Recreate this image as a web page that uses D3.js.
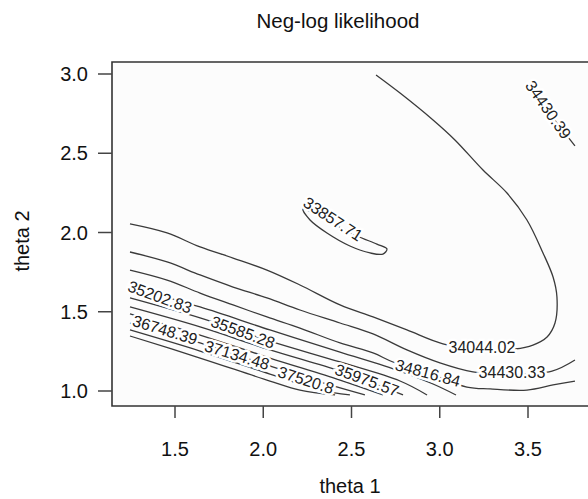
<!DOCTYPE html>
<html>
<head>
<meta charset="utf-8">
<script src="https://cdn.jsdelivr.net/npm/d3@7"></script>
<style>
  html, body { margin: 0; padding: 0; background: #fff; }
  svg { display: block; font-family: "Liberation Sans", Arial, sans-serif; }
</style>
</head>
<body>
<div id="chart"></div>
<script>
// axis ticks
const xTicks = [1.5, 2.0, 2.5, 3.0, 3.5];
const yTicks = [1.0, 1.5, 2.0, 2.5, 3.0];

// contour lines as [theta1, theta2]
const c33857 = [[2.225,2.148],[2.378,2.066],[2.531,1.978],[2.644,1.927],[2.701,1.896],[2.678,1.864],[2.605,1.871],[2.491,1.915],[2.361,1.997],[2.265,2.079]];
const c34044 = [[1.245,2.054],[1.455,1.997],[1.642,1.909],[1.829,1.839],[2.021,1.763],[2.208,1.669],[2.435,1.543],[2.622,1.467],[2.814,1.385],[3.018,1.297],[3.228,1.259],[3.426,1.265],[3.528,1.290],[3.608,1.341],[3.653,1.429],[3.664,1.593],[3.642,1.719],[3.585,1.871],[3.494,2.079],[3.381,2.249],[3.245,2.394],[3.086,2.584],[2.962,2.710],[2.775,2.880],[2.639,2.994]];
const c34430 = [[1.245,1.877],[1.455,1.814],[1.642,1.732],[1.829,1.656],[2.021,1.587],[2.208,1.511],[2.435,1.429],[2.622,1.360],[2.814,1.259],[3.001,1.177],[3.188,1.120],[3.398,1.107],[3.636,1.126],[3.766,1.196]];
const c34430top = [[3.500,2.940],[3.608,2.773],[3.766,2.546]];
const c34817 = [[1.245,1.763],[1.455,1.700],[1.642,1.618],[1.829,1.543],[2.021,1.467],[2.208,1.397],[2.435,1.303],[2.622,1.240],[2.735,1.183],[2.933,1.114],[3.154,1.025],[3.285,1.013],[3.494,1.006],[3.642,1.038],[3.766,1.063]];
const c35203 = [[1.245,1.656],[1.642,1.530],[2.038,1.385],[2.435,1.246],[2.775,1.126],[2.962,1.044],[3.092,0.975]];
const c35589 = [[1.245,1.587],[1.642,1.461],[2.038,1.315],[2.435,1.183],[2.775,1.063],[2.928,0.975]];
const c35975 = [[1.245,1.530],[1.642,1.404],[2.038,1.259],[2.435,1.126],[2.661,1.032],[2.792,0.975]];
const c36361 = [[1.245,1.486],[1.642,1.353],[2.038,1.208],[2.435,1.069],[2.678,0.975]];
const c36748 = [[1.245,1.429],[1.642,1.303],[2.038,1.158],[2.378,1.038],[2.576,0.975]];
const c37134 = [[1.245,1.385],[1.642,1.252],[2.038,1.107],[2.322,1.006],[2.491,0.975]];
const c37520 = [[1.245,1.347],[1.642,1.208],[2.038,1.063],[2.208,1.006],[2.407,0.975]];

// contour labels: text, theta1, theta2, angle
const labelText  = ["33857.71","34044.02","34430.33","34430.39","34816.84","35202.83","35585.28","35975.57","36748.39","37134.48","37520.8"];
const labelT1    = [2.395, 3.239, 3.409, 3.615, 2.933, 1.415, 1.885, 2.588, 1.443, 1.851, 2.242];
const labelT2    = [2.085, 1.278, 1.120, 2.775, 1.114, 1.593, 1.372, 1.069, 1.385, 1.227, 1.069];
const labelAngle = [33, 0, 0, 55, 15, 20, 20, 20, 17, 17, 18];

const W = 588, H = 499;
const box = { left: 112, top: 62, right: 640, bottom: 406 };

const svg = d3.select("#chart").append("svg")
  .attr("width", W).attr("height", H);

const x = d3.scaleLinear().domain([1.5, 3.5]).range([175, 528]);
const y = d3.scaleLinear().domain([1.0, 3.0]).range([391, 74]);

svg.append("rect").attr("x", 0).attr("y", 0).attr("width", W).attr("height", H).attr("fill", "#fff");
svg.append("rect").attr("x", box.left).attr("y", box.top)
  .attr("width", box.right - box.left).attr("height", box.bottom - box.top)
  .attr("fill", "#fcfcfc");

// contours
const line = d3.line().x(d => x(d[0])).y(d => y(d[1])).curve(d3.curveCatmullRom.alpha(0.5));
const closed = d3.line().x(d => x(d[0])).y(d => y(d[1])).curve(d3.curveCatmullRomClosed.alpha(0.5));
const g = svg.append("g").attr("fill", "none").attr("stroke", "#3a3a3a").attr("stroke-width", 1.3);
[c34044, c34430, c34430top, c34817, c35203, c35589, c35975, c36361, c36748, c37134, c37520]
  .forEach(pts => g.append("path").attr("d", line(pts)));
g.append("path").attr("d", closed(c33857));

// labels, with white halo to break the lines
svg.append("g").selectAll("text")
  .data(labelText).join("text")
  .attr("transform", (d, i) => `translate(${x(labelT1[i])},${y(labelT2[i])}) rotate(${labelAngle[i]})`)
  .attr("text-anchor", "middle").attr("dy", "0.35em")
  .attr("font-size", 16).attr("fill", "#222")
  .attr("stroke", "#fff").attr("stroke-width", 5).attr("paint-order", "stroke")
  .text(d => d);

// frame
svg.append("path")
  .attr("d", `M${box.right},${box.top}H${box.left}V${box.bottom}H${box.right}`)
  .attr("fill", "none").attr("stroke", "#333").attr("stroke-width", 1.6);

// y axis
const ya = svg.append("g");
ya.selectAll("line").data(yTicks).join("line")
  .attr("x1", box.left - 14).attr("x2", box.left)
  .attr("y1", d => y(d)).attr("y2", d => y(d))
  .attr("stroke", "#444").attr("stroke-width", 1.5);
ya.selectAll("text").data(yTicks).join("text")
  .attr("x", 88).attr("y", d => y(d)).attr("dy", "0.36em")
  .attr("text-anchor", "end").attr("font-size", 20).attr("fill", "#111")
  .text(d3.format(".1f"));

// x axis
const xa = svg.append("g");
xa.selectAll("line").data(xTicks).join("line")
  .attr("x1", d => x(d)).attr("x2", d => x(d))
  .attr("y1", box.bottom).attr("y2", box.bottom + 12)
  .attr("stroke", "#444").attr("stroke-width", 1.5);
xa.selectAll("text").data(xTicks).join("text")
  .attr("x", d => x(d)).attr("y", 456)
  .attr("text-anchor", "middle").attr("font-size", 20).attr("fill", "#111")
  .text(d3.format(".1f"));

// titles
svg.append("text").attr("x", 338).attr("y", 28).attr("text-anchor", "middle")
  .attr("font-size", 20.5).attr("fill", "#111").text("Neg-log likelihood");
svg.append("text").attr("x", 350).attr("y", 493).attr("text-anchor", "middle")
  .attr("font-size", 20).attr("fill", "#111").text("theta 1");
svg.append("text").attr("transform", "translate(29,241) rotate(-90)").attr("text-anchor", "middle")
  .attr("font-size", 20).attr("fill", "#111").text("theta 2");
</script>
</body>
</html>
